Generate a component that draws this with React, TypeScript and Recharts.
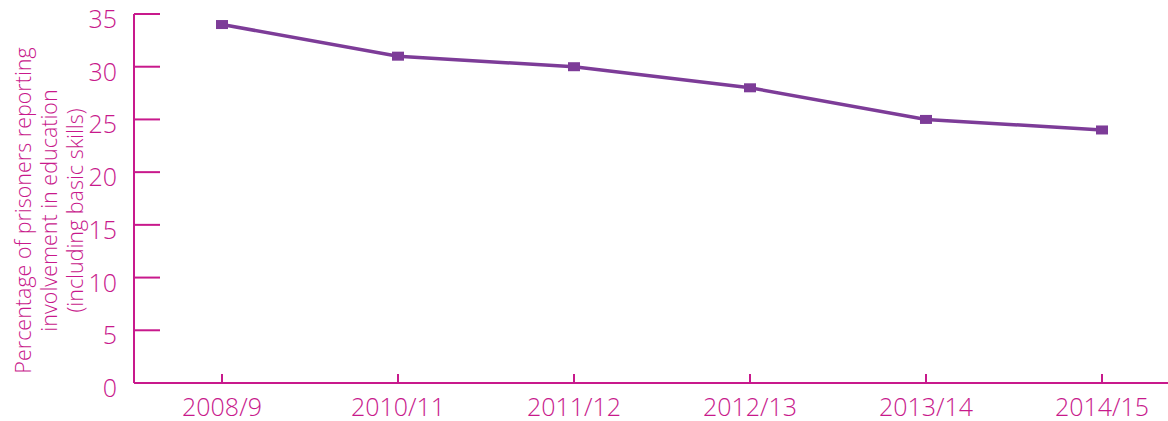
import React from 'react';
import { LineChart, Line, XAxis, YAxis } from 'recharts';

const categories = ['2008/9', '2010/11', '2011/12', '2012/13', '2013/14', '2014/15'];
const percentages = [34, 31, 30, 28, 25, 24];
const yTicks = [0, 5, 10, 15, 20, 25, 30, 35];
const yLabelLines = [
  'Percentage of prisoners reporting',
  'involvement in education',
  '(including basic skills)',
];

const data = categories.map((c, i) => ({ period: c, value: percentages[i] }));

const AXIS = '#C8198C';
const LINE = '#7D3C98';
const FONT = '"Open Sans", sans-serif';

const SquareDot = (props: any) => {
  const { cx, cy } = props;
  if (cx == null || cy == null) return null;
  return <rect x={cx - 6} y={cy - 4.5} width={12} height={9} fill={LINE} />;
};

const YTick = (props: any) => {
  const { x, y, payload } = props;
  return (
    <text x={x} y={y + 4} textAnchor="end" dominantBaseline="central" fill={AXIS} fontFamily={FONT} fontWeight={300} fontSize={25}>
      {payload.value}
    </text>
  );
};

const YLabel = (props: any) => {
  const vb = props.viewBox || {};
  const cy = vb.y + vb.height / 2 + 12;
  const xs = [22, 48, 74];
  return (
    <g>
      {yLabelLines.map((t, i) => (
        <text
          key={i}
          x={xs[i]}
          y={cy}
          transform={`rotate(-90, ${xs[i]}, ${cy})`}
          textAnchor="middle"
          dominantBaseline="central"
          fill={AXIS}
          fontFamily={FONT}
          fontWeight={300}
          fontSize={21.5}
        >
          {t}
        </text>
      ))}
    </g>
  );
};

export default function App() {
  return (
    <div style={{ position: 'absolute', left: 0, top: 0, width: 1168, height: 421, overflow: 'hidden', background: '#fff' }}>
      <LineChart
        width={1200}
        height={421}
        data={data}
        margin={{ top: 14, right: 10, bottom: 0, left: 74 }}
      >
        <XAxis
          dataKey="period"
          stroke={AXIS}
          strokeWidth={2}
          tickSize={-9}
          tickMargin={24}
          height={38}
          interval={0}
          padding={{ left: 88, right: 88 }}
          tick={{ fill: AXIS, fontSize: 25, fontFamily: FONT, fontWeight: 300 }}
        />
        <YAxis
          domain={[0, 35]}
          ticks={yTicks}
          width={60}
          stroke={AXIS}
          strokeWidth={2}
          tickSize={-26}
          tickMargin={43}
          interval={0}
          tick={<YTick />}
          label={<YLabel />}
        />
        <Line
          type="linear"
          dataKey="value"
          stroke={LINE}
          strokeWidth={3.5}
          dot={<SquareDot />}
          activeDot={false}
          isAnimationActive={false}
        />
      </LineChart>
    </div>
  );
}
